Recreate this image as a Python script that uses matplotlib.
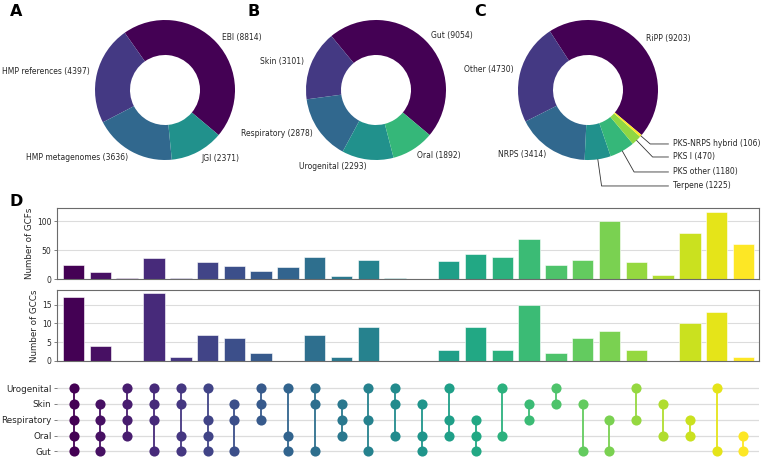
import numpy as np
import matplotlib
matplotlib.use("Agg")
import matplotlib.pyplot as plt

# ---------------- data ----------------
source_labels = ["EBI", "HMP references", "HMP metagenomes", "JGI"]
source_counts = [8814, 4397, 3636, 2371]

site_labels = ["Gut", "Skin", "Respiratory", "Urogenital", "Oral"]
site_counts = [9054, 3101, 2878, 2293, 1892]

class_labels = ["RiPP", "Other", "NRPS", "Terpene", "PKS other", "PKS I", "PKS-NRPS hybrid"]
class_counts = [9203, 4730, 3414, 1225, 1180, 470, 106]

matrix_rows = ["Gut", "Oral", "Respiratory", "Skin", "Urogenital"]  # bottom -> top

memberships = [
    ["Urogenital", "Skin", "Respiratory", "Oral", "Gut"],
    ["Skin", "Respiratory", "Oral", "Gut"],
    ["Urogenital", "Skin", "Respiratory", "Oral"],
    ["Urogenital", "Skin", "Respiratory", "Gut"],
    ["Urogenital", "Skin", "Oral", "Gut"],
    ["Urogenital", "Respiratory", "Oral", "Gut"],
    ["Skin", "Respiratory", "Gut"],
    ["Urogenital", "Skin", "Respiratory"],
    ["Urogenital", "Oral", "Gut"],
    ["Urogenital", "Skin", "Gut"],
    ["Skin", "Respiratory", "Oral"],
    ["Urogenital", "Respiratory", "Gut"],
    ["Urogenital", "Skin", "Oral"],
    ["Skin", "Oral", "Gut"],
    ["Urogenital", "Respiratory", "Oral"],
    ["Respiratory", "Oral", "Gut"],
    ["Urogenital", "Oral"],
    ["Skin", "Respiratory"],
    ["Urogenital", "Skin"],
    ["Skin", "Gut"],
    ["Respiratory", "Gut"],
    ["Urogenital", "Respiratory"],
    ["Skin", "Oral"],
    ["Respiratory", "Oral"],
    ["Urogenital", "Gut"],
    ["Oral", "Gut"],
]
gcf_counts = [24, 13, 3, 37, 3, 30, 22, 14, 21, 39, 6, 33, 2, 1, 31, 44, 38, 70, 24, 33, 100, 29, 7, 80, 116, 61]
gcc_counts = [17, 4, 0, 18, 1, 7, 6, 2, 0, 7, 1, 9, 0, 0, 3, 9, 3, 15, 2, 6, 8, 3, 0, 10, 13, 1]

# ---------------- figure ----------------
W, H = 764, 461
fig = plt.figure(figsize=(W / 100, H / 100), dpi=100)


def px_axes(l, t, r, b):
    return fig.add_axes([l / W, 1 - b / H, (r - l) / W, (b - t) / H])


TXT = "#262626"
pie_colors = plt.cm.viridis(np.linspace(0, 1, 7))
START = -40
R = 70
PIE_FS = 5.5


def donut(cx, cy, counts, labels, show):
    ax = px_axes(cx - R, cy - R, cx + R, cy + R)
    lab = [f"{l} ({c})" if s else "" for l, c, s in zip(labels, counts, show)]
    wedges, texts = ax.pie(counts, labels=lab, colors=pie_colors[:len(counts)],
                           startangle=START, counterclock=True, radius=1,
                           labeldistance=1.1,
                           wedgeprops=dict(width=0.5, edgecolor="none"),
                           textprops=dict(fontsize=PIE_FS, color=TXT))
    ax.set_xlim(-1, 1)
    ax.set_ylim(-1, 1)
    ax.set_aspect("equal")
    ax.axis("off")
    return ax, wedges


donut(165, 90, source_counts, source_labels, [True] * 4)
donut(376, 90, site_counts, site_labels, [True] * 5)
axc, wedges_c = donut(588, 90, class_counts, class_labels, [True, True, True, False, False, False, False])

ann_y = {3: -1.371, 4: -1.171, 5: -0.957, 6: -0.771}
for i, yt in ann_y.items():
    w = wedges_c[i]
    ang = (w.theta2 + w.theta1) / 2.0
    x = np.cos(np.deg2rad(ang))
    y = np.sin(np.deg2rad(ang))
    axc.annotate(f"{class_labels[i]} ({class_counts[i]})", xy=(x, y), xytext=(1.21, yt),
                 ha="left", va="center", fontsize=PIE_FS, color=TXT,
                 arrowprops=dict(arrowstyle="-", color="#333333", lw=0.6,
                                 shrinkA=1, shrinkB=0,
                                 connectionstyle=f"angle,angleA=0,angleB={ang}"))

for letter, x, y in [("A", 16, 12), ("B", 254, 11), ("C", 480, 12), ("D", 16, 202)]:
    fig.text(x / W, 1 - y / H, letter, fontsize=11.5, fontweight="bold",
             ha="center", va="center", color="black")

# ---------------- upset ----------------
n = len(gcf_counts)
xs = np.arange(n)
col_colors = plt.cm.viridis(np.linspace(0, 1, n))
XL = (-0.62, n - 1 + 0.58)
L, Rgt = 57, 759


def style_bar_axis(ax, ylabel):
    for s in ax.spines.values():
        s.set_color("#6b6b6b")
        s.set_linewidth(0.8)
    ax.set_xlim(*XL)
    ax.set_xticks([])
    ax.tick_params(axis="y", labelsize=5.5, length=2.5, width=0.6, color="#6b6b6b",
                   labelcolor=TXT, pad=1.5)
    ax.grid(axis="y", color="#dcdcdc", lw=0.8)
    ax.set_axisbelow(True)
    ax.set_ylabel(ylabel, fontsize=6.3, color=TXT, labelpad=2)


ax1 = px_axes(L, 208.3, Rgt, 279.3)
ax1.bar(xs, gcf_counts, width=0.8, color=col_colors, edgecolor="white", linewidth=0.4)
ax1.set_ylim(0, 122)
ax1.set_yticks([0, 50, 100])
style_bar_axis(ax1, "Number of GCFs")

ax2 = px_axes(L, 290, Rgt, 361)
ax2.bar(xs, gcc_counts, width=0.8, color=col_colors, edgecolor="white", linewidth=0.4)
ax2.set_ylim(0, 18.9)
ax2.set_yticks([0, 5, 10, 15])
style_bar_axis(ax2, "Number of GCCs")

ax3 = px_axes(L, 380.3, Rgt, 459.2)
ax3.set_xlim(*XL)
ax3.set_ylim(-0.5, len(matrix_rows) - 0.5)
for s in ax3.spines.values():
    s.set_visible(False)
for j in range(len(matrix_rows)):
    ax3.axhline(j, color="#dcdcdc", lw=0.9, zorder=0)
for i, mem in enumerate(memberships):
    ys = sorted(matrix_rows.index(m) for m in mem)
    ax3.plot([xs[i], xs[i]], [ys[0], ys[-1]], color=col_colors[i], lw=1.3, zorder=1)
    ax3.plot([xs[i]] * len(ys), ys, "o", color=col_colors[i], ms=7.3, mec="none", zorder=2)
ax3.set_xticks([])
ax3.set_yticks(range(len(matrix_rows)))
ax3.set_yticklabels(matrix_rows)
ax3.tick_params(axis="y", labelsize=6.3, length=2.5, width=0.6, color="#6b6b6b",
                labelcolor=TXT, pad=1.5)

fig.savefig("out.png", dpi=100)
